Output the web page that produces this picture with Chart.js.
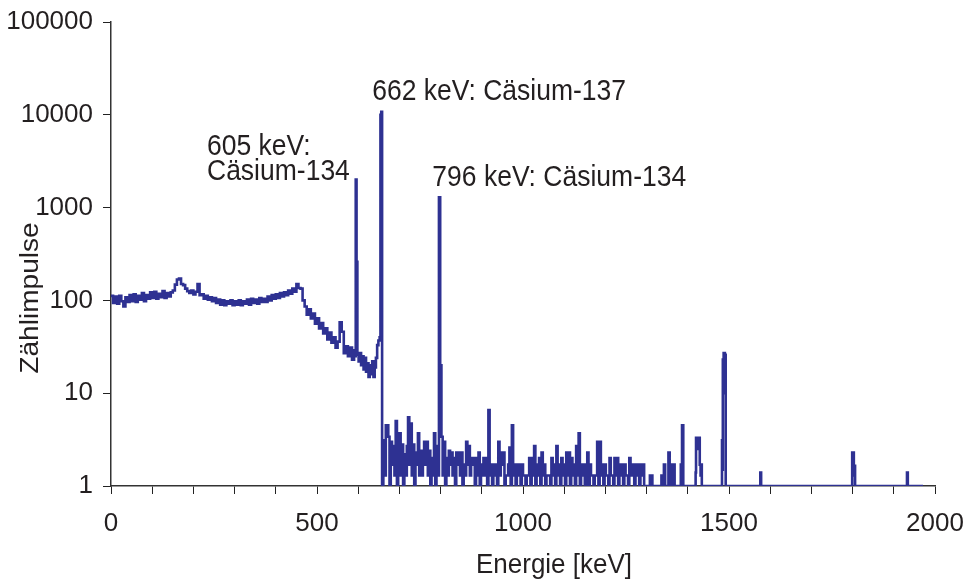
<!DOCTYPE html>
<html>
<head>
<meta charset="utf-8">
<script src="https://cdn.jsdelivr.net/npm/chart.js@4.4.1/dist/chart.umd.min.js"></script>
<style>
  html, body { margin: 0; padding: 0; background: #fff; }
  #wrap { width: 968px; height: 581px; }
</style>
</head>
<body>
<div id="wrap"><canvas id="spectrum" width="968" height="581"></canvas></div>
<script>
'use strict';

// continuum 0..590 keV, one value every 5 keV
var contStart = 0;
var contStep = 5;
var contCounts = [
  112, 94, 110, 92, 112, 98, 86, 108, 96, 114,
  98, 116, 96, 112, 102, 120, 98, 114, 104, 122,
  106, 124, 104, 118, 108, 126, 106, 120, 110, 122,
  128, 148, 168, 172, 150, 146, 134, 126, 120, 128,
  116, 124, 150, 114, 116, 104, 112, 102, 108, 98,
  106, 94, 102, 90, 100, 89, 98, 92, 100, 89,
  98, 90, 100, 89, 98, 92, 102, 90, 104, 94,
  102, 92, 106, 96, 104, 96, 110, 100, 114, 104,
  116, 106, 120, 110, 122, 114, 128, 118, 134, 124,
  150, 136, 134, 100, 86, 70, 80, 64, 72, 56,
  64, 50, 57, 44, 50, 38, 45, 35, 40, 31,
  36, 58, 46, 27, 32, 25, 31, 23, 29
];

// Cs-134 605 keV and Cs-137 662 keV lines
var peakEnergy = [592, 594, 596, 598, 601, 604, 607, 610, 613, 616, 619, 622, 625,
  628, 631, 634, 637, 640, 643, 646, 649, 652, 654, 656, 658];
var peakCounts = [25, 2000, 260, 26, 22, 27, 20, 25, 18, 24, 17, 21, 15,
  20, 16, 22, 15, 19, 24, 33, 37, 40, 10000, 10800, 1];

// noisy part 661..1297 keV, one value every 3 keV
var noiseStart = 661;
var noiseStep = 3;
var noiseCounts = [
  3.1, 1.3, 4.5, 4.5, 3.4, 1, 3.0, 1.7, 2.7, 1.3,
  5.0, 1, 2.9, 3.7, 1.3, 2.8, 1, 2.2, 1.3, 2.7,
  5.5, 1.7, 4.7, 1.3, 2.8, 1, 2.3, 1.7, 3.7, 1.3,
  2.4, 1.3, 2.0, 3.0, 1.7, 3.0, 1.3, 2.4, 1, 2.0,
  1.3, 3.7, 1, 2.7, 1.3, 1290, 20, 3.4, 1.3, 3.0,
  1, 2.0, 1.3, 2.4, 1.7, 2.3, 1.3, 2.0, 1, 2.3,
  1.7, 2.3, 1.3, 2.3, 1, 1.7, 1.3, 3.0, 1.7, 2.7,
  1.3, 2.0, 1.7, 2.0, 1, 2.0, 1.3, 2.3, 1, 1.7,
  1.3, 2.0, 1.3, 2.0, 1, 6.6, 1.3, 1.7, 1, 1.7,
  1.3, 1.7, 1, 3.0, 1.3, 2.3, 1.7, 2.3, 1, 1.3,
  1.3, 1.7, 2.6, 1, 4.5, 1.3, 1.7, 1, 1.7, 1.3,
  1.7, 1, 1.7, 1.3, 1.3, 1, 1.3, 1.3, 2.0, 1,
  2.0, 1.3, 2.7, 1, 1.7, 1.3, 2.0, 1, 2.3, 1.3,
  1.7, 1, 1.3, 1.3, 1.3, 1, 2.0, 1.3, 1.7, 1,
  2.7, 1.3, 1.7, 1, 2.0, 1.3, 1.7, 1, 2.3, 1.3,
  2.3, 1, 2.0, 1.3, 1.7, 1, 2.7, 1.3, 3.7, 1,
  1.7, 1.3, 1.7, 1, 1.3, 2.3, 1, 1.7, 1.3, 1.3,
  1, 1.3, 1.3, 3.0, 1, 3.0, 1.3, 1.7, 1, 1.7,
  1.3, 1.3, 1, 2.0, 1.3, 1.3, 1, 2.0, 1.3, 2.0,
  1, 1.7, 1.3, 1.7, 1, 1.7, 1.3, 1.3, 1, 2.0,
  1.3, 1.3, 1.7, 1, 1.7, 1.3, 1.7, 1, 1.7, 1.3,
  1.7, 1, 1
];

// high energy tail, mostly empty channels
var tailEnergy = [1300, 1308, 1311, 1314, 1333, 1336, 1339, 1342, 1345,
  1351, 1353, 1356, 1359, 1362, 1365, 1368, 1381, 1383, 1386, 1389,
  1418, 1419, 1420, 1422, 1424, 1426, 1428, 1429, 1431, 1433, 1434,
  1482, 1483, 1484, 1485, 1486, 1487, 1488, 1489, 1490, 1491, 1492,
  1575, 1576, 1577, 1578,
  1798, 1799, 1800, 1801, 1802, 1803, 1804, 1805, 1806,
  1931, 1932, 1933, 1934, 1971];
var tailCounts = [1, 1.3, 1.3, 1, 1, 1.3, 1, 1.7, 1,
  1, 2.3, 1.7, 1, 1.7, 1.7, 1, 1, 1.7, 4.5, 1,
  1, 1.4, 3.3, 2.5, 3.3, 2.5, 3.3, 1.7, 1.3, 1.7, 1,
  1, 3.1, 1.5, 23, 10, 27, 12, 27, 15, 26, 1,
  1, 1.4, 1.4, 1,
  1, 2.3, 1.5, 2.3, 2.3, 1.65, 1.3, 1.65, 1,
  1, 1.4, 1.4, 1, 1];

var yTicks = [1, 10, 100, 1000, 10000, 100000];
var xTickLabels = [0, 500, 1000, 1500, 2000];
var xMinorStep = 100;

// peak labels: text lines, left edge (keV) and baseline (counts)
var peakLabels = [
  { lines: ['605 keV:', 'Cäsium-134'], keV: 233, counts: [3700, 2000] },
  { lines: ['662 keV: Cäsium-137'], keV: 634, counts: [14500] },
  { lines: ['796 keV: Cäsium-134'], keV: 780, counts: [1720] }
];

var points = [];
contCounts.forEach(function (c, i) { points.push({ x: contStart + i * contStep, y: c }); });
peakEnergy.forEach(function (e, i) { points.push({ x: e, y: peakCounts[i] }); });
noiseCounts.forEach(function (c, i) { points.push({ x: noiseStart + i * noiseStep, y: c }); });
tailEnergy.forEach(function (e, i) { points.push({ x: e, y: tailCounts[i] }); });

var textColor = '#231f20';
var fontFamily = '"Liberation Sans", Arial, sans-serif';
var stretch = 1.08;

// text in the original is a bit taller than wide
function tallText(ctx, text, x, y, rot) {
  ctx.save();
  ctx.translate(x, y);
  if (rot) {
    ctx.rotate(rot);
    ctx.scale(stretch, 1);
  } else {
    ctx.scale(1, stretch);
  }
  ctx.fillText(text, 0, 0);
  ctx.restore();
}

var textPlugin = {
  id: 'textPlugin',
  afterDraw: function (chart) {
    var ctx = chart.ctx;
    var xs = chart.scales.x, ys = chart.scales.y;
    ctx.save();
    ctx.fillStyle = textColor;
    ctx.font = '26.5px ' + fontFamily;
    ctx.textAlign = 'left';
    ctx.textBaseline = 'alphabetic';
    peakLabels.forEach(function (lab) {
      lab.lines.forEach(function (t, i) {
        tallText(ctx, t, xs.getPixelForValue(lab.keV), ys.getPixelForValue(lab.counts[i]));
      });
    });
    // axis titles
    ctx.font = '26px ' + fontFamily;
    ctx.textAlign = 'center';
    ctx.textBaseline = 'middle';
    tallText(ctx, 'Energie [keV]', 554, 565);
    tallText(ctx, 'Zählimpulse', 31, 298, -Math.PI / 2);
    ctx.restore();
  }
};

var ctx = document.getElementById('spectrum').getContext('2d');
var chart = new Chart(ctx, {
  type: 'line',
  data: {
    datasets: [{
      label: 'Zählimpulse',
      data: points,
      borderColor: '#2E3192',
      backgroundColor: '#2E3192',
      borderWidth: 2.6,
      stepped: true,
      pointRadius: 0,
      fill: false
    }]
  },
  options: {
    responsive: false,
    animation: false,
    devicePixelRatio: 1,
    layout: { padding: { top: 22, right: 33, left: 0, bottom: 0 } },
    plugins: {
      legend: { display: false },
      tooltip: { enabled: false }
    },
    scales: {
      x: {
        type: 'linear',
        min: 0,
        max: 2000,
        afterBuildTicks: function (scale) {
          var t = [];
          for (var v = 0; v <= 2000; v += xMinorStep) t.push({ value: v });
          scale.ticks = t;
        },
        afterFit: function (scale) {
          scale.height = 95;
          scale.paddingLeft = 0;
          scale.paddingRight = 0;
        },
        ticks: {
          autoSkip: false,
          maxRotation: 0,
          padding: 14,
          color: textColor,
          font: { family: fontFamily, size: 26 },
          callback: function (v) { return xTickLabels.indexOf(v) >= 0 ? String(v) : ''; }
        },
        grid: { drawOnChartArea: false, drawTicks: true, tickLength: 8, color: '#222', lineWidth: 1 },
        border: { color: '#333', width: 1.5 }
      },
      y: {
        type: 'logarithmic',
        min: 1,
        max: 100000,
        afterBuildTicks: function (scale) {
          scale.ticks = yTicks.map(function (v) { return { value: v }; });
        },
        afterFit: function (scale) {
          scale.width = 111;
          scale.paddingTop = 0;
          scale.paddingBottom = 0;
        },
        ticks: {
          autoSkip: false,
          padding: 10,
          color: textColor,
          font: { family: fontFamily, size: 26 },
          callback: function (v) { return String(v); }
        },
        grid: { drawOnChartArea: false, drawTicks: true, tickLength: 8, color: '#222', lineWidth: 1 },
        border: { color: '#333', width: 1.5 }
      }
    }
  },
  plugins: [textPlugin]
});
</script>
</body>
</html>
